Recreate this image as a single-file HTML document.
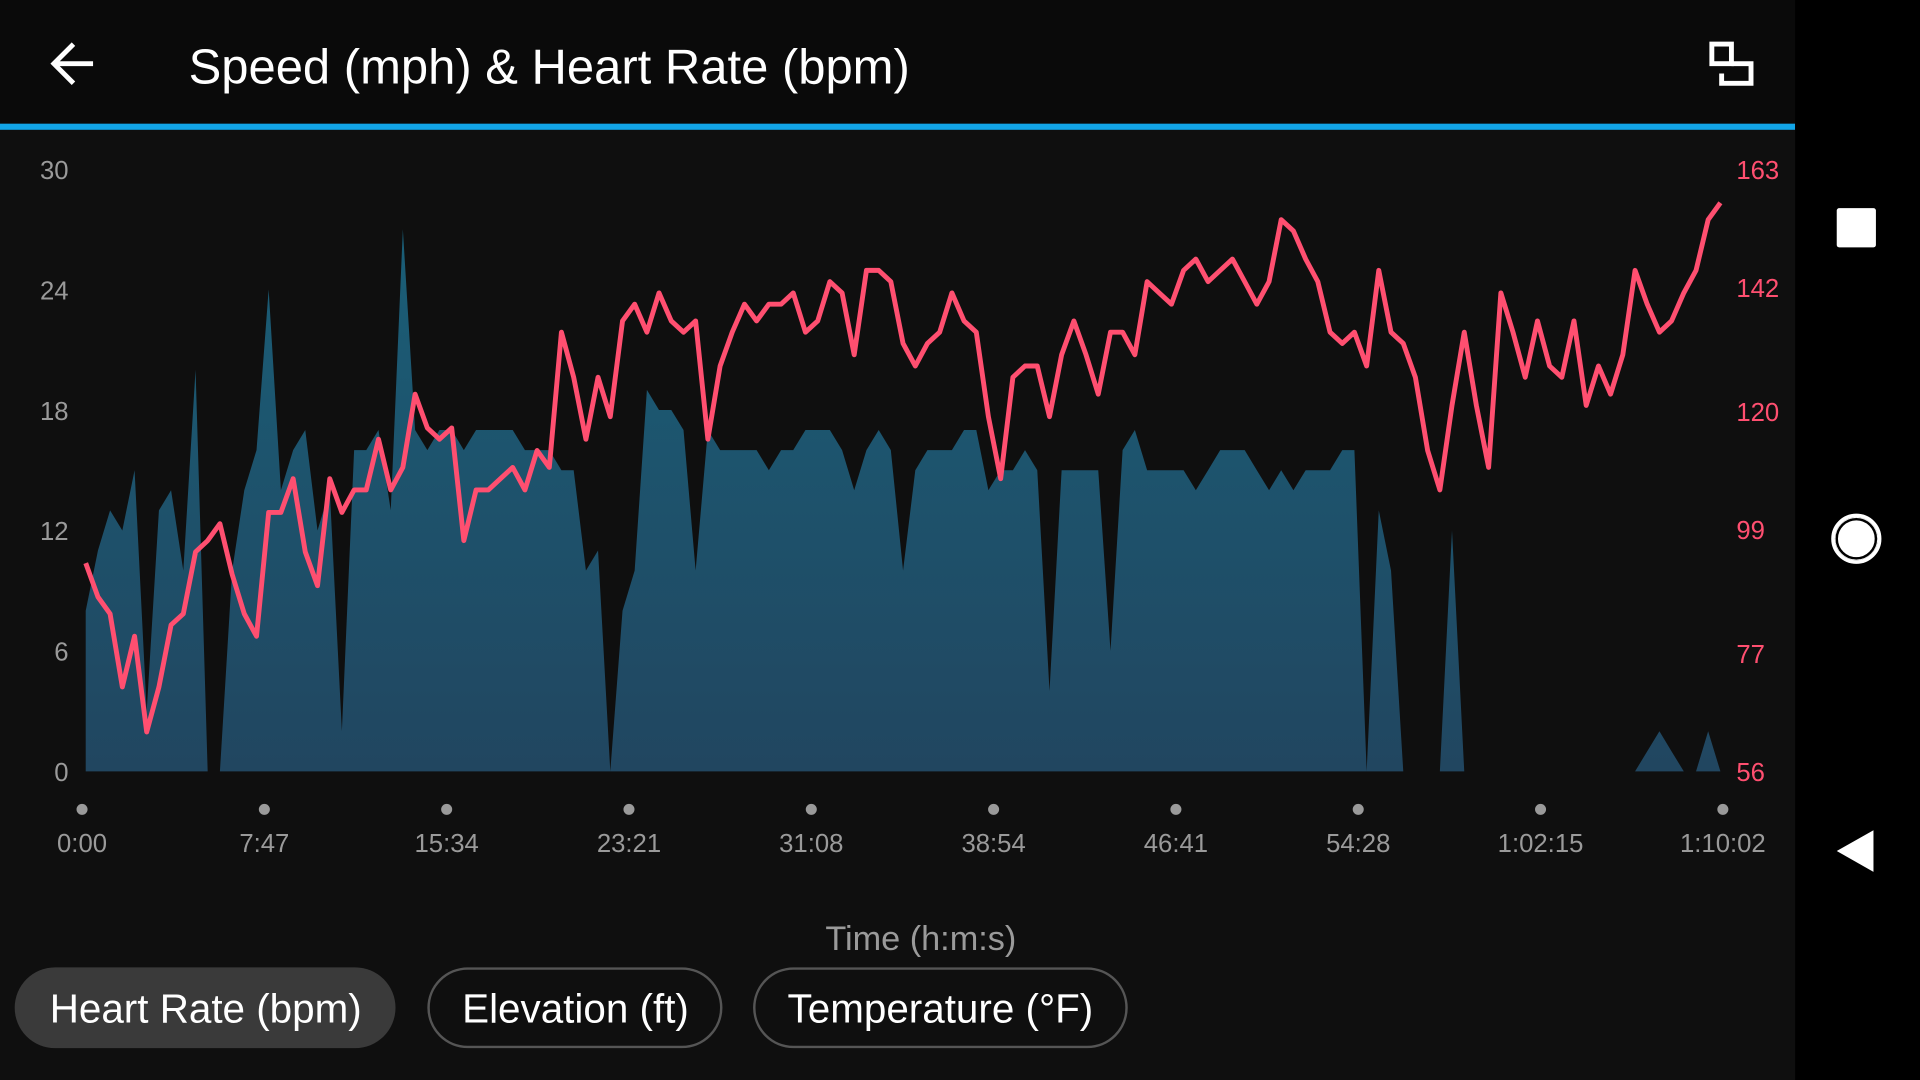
<!DOCTYPE html>
<html><head><meta charset="utf-8"><style>
html,body{margin:0;padding:0;background:#0f0f0f;width:1920px;height:1080px;overflow:hidden}
svg{display:block;font-family:"Liberation Sans",sans-serif}
</style></head><body>
<svg id="root" width="1920" height="1080" viewBox="0 0 1568 882">
<defs><linearGradient id="ag" x1="0" y1="0" x2="0" y2="1"><stop offset="0" stop-color="#1a5e77"/><stop offset="1" stop-color="#214660"/></linearGradient></defs>
<rect x="0" y="0" width="1568" height="882" fill="#0f0f0f"/>
<rect x="0" y="0" width="1466" height="102" fill="#0a0a0a"/>
<rect x="0" y="101" width="1466" height="5" fill="#12a5e8"/>
<g><path d="M76 52 H44 M60 36 L44 52 L60 68" stroke="#fff" stroke-width="4" fill="none"/></g>
<text x="154" y="68" font-size="40" fill="#fff">Speed (mph) &amp; Heart Rate (bpm)</text>
<g><rect x="1398" y="36" width="16" height="16" fill="none" stroke="#fff" stroke-width="4"/><path d="M1414 52 H1430 V68 H1406 V60" fill="none" stroke="#fff" stroke-width="4"/></g>
<rect x="1466" y="0" width="102" height="882" fill="#000"/>
<rect x="1500" y="170" width="32" height="32" rx="2" fill="#fff"/>
<circle cx="1516" cy="440" r="17" fill="#fff" stroke="#fff"/><circle cx="1516" cy="440" r="19" fill="none" stroke="#fff" stroke-width="3"/><circle cx="1516" cy="440" r="16" fill="none" stroke="#000" stroke-width="2"/>
<path d="M1530 678 V712 L1500 695 Z" fill="#fff"/>
<g id="chart"></g>
<text x="752" y="776" text-anchor="middle" font-size="28" fill="#9a9a9a">Time (h:m:s)</text>
<g><rect x="12" y="790" width="311" height="66" rx="33" fill="#3a3a3a"/><text x="168" y="835" text-anchor="middle" font-size="33" fill="#fff">Heart Rate (bpm)</text></g>
<g><rect x="350" y="791" width="239" height="64" rx="32" fill="none" stroke="#555" stroke-width="2"/><text x="470" y="835" text-anchor="middle" font-size="33" fill="#fff">Elevation (ft)</text></g>
<g><rect x="616" y="791" width="304" height="64" rx="32" fill="none" stroke="#555" stroke-width="2"/><text x="768" y="835" text-anchor="middle" font-size="33" fill="#fff">Temperature (°F)</text></g>
</svg>
<script>
const speed = [8,11,13,12,15,3,13,14,10,20,0,0,10,14,16,24,14,16,17,12,14,2,16,16,17,13,27,17,16,17,17,16,17,17,17,17,16,16,16,15,15,10,11,0,8,10,19,18,18,17,10,17,16,16,16,16,15,16,16,17,17,17,16,14,16,17,16,10,15,16,16,16,17,17,14,15,15,16,15,4,15,15,15,15,6,16,17,15,15,15,15,14,15,16,16,16,15,14,15,14,15,15,15,16,16,0,13,10,0,0,0,0,12,0,0,0,0,0,0,0,0,0,0,0,0,0,0,0,1,2,1,0,0,2,0];
const heartRate = [93,87,84,71,80,63,71,82,84,95,97,100,91,84,80,102,102,108,95,89,108,102,106,106,115,106,110,123,117,115,117,97,106,106,108,110,106,113,110,134,126,115,126,119,136,139,134,141,136,134,136,115,128,134,139,136,139,139,141,134,136,143,141,130,145,145,143,132,128,132,134,141,136,134,119,108,126,128,128,119,130,136,130,123,134,134,130,143,141,139,145,147,143,145,147,143,139,143,154,152,147,143,134,132,134,128,145,134,132,126,113,106,121,134,121,110,141,134,126,136,128,126,136,121,128,123,130,145,139,134,136,141,145,154,157];
const xTicks = ["0:00","7:47","15:34","23:21","31:08","38:54","46:41","54:28","1:02:15","1:10:02"];
const yLeftTicks = [0,6,12,18,24,30];
const yRightTicks = [56,77,99,120,142,163];
const NS="http://www.w3.org/2000/svg";
const g=document.getElementById('chart');
const X0=70,X1=1405,Y0=630,Y1=138;
const xs=(i,n)=>X0+(X1-X0)*i/(n-1);
const yL=v=>Y0-(v-0)/(30-0)*(Y0-Y1);
const yR=v=>Y0-(v-56)/(163-56)*(Y0-Y1);
function mk(t,a){const e=document.createElementNS(NS,t);for(const k in a)e.setAttribute(k,a[k]);g.appendChild(e);return e;}
// area
let d=`M${X0} ${Y0}`;
speed.forEach((v,i)=>{d+=` L${xs(i,speed.length).toFixed(1)} ${yL(v).toFixed(1)}`;});
d+=` L${X1} ${Y0} Z`;
const area=mk('path',{d:d,fill:'url(#ag)'});


let p='';
heartRate.forEach((v,i)=>{p+=(i?' L':'M')+xs(i,heartRate.length).toFixed(1)+' '+yR(v).toFixed(1);});
const line=mk('path',{d:p,fill:'none',stroke:'#ff4f70','stroke-width':4,'stroke-linejoin':'round'});


yLeftTicks.forEach(v=>{const t=mk('text',{x:56,y:yL(v)+8,'text-anchor':'end','font-size':21,fill:'#9a9a9a'});t.textContent=v;

});
yRightTicks.forEach(v=>{const t=mk('text',{x:1418,y:yR(v)+8,'font-size':21,fill:'#ff4f70'});t.textContent=v;

});
xTicks.forEach((s,i)=>{const x=67+(1407-67)*i/(xTicks.length-1);
const c=mk('circle',{cx:x,cy:661,r:4.5,fill:'#9a9a9a'});


const t=mk('text',{x:x,y:696,'text-anchor':'middle','font-size':21,fill:'#9a9a9a'});t.textContent=s;

});
</script>
</body></html>
